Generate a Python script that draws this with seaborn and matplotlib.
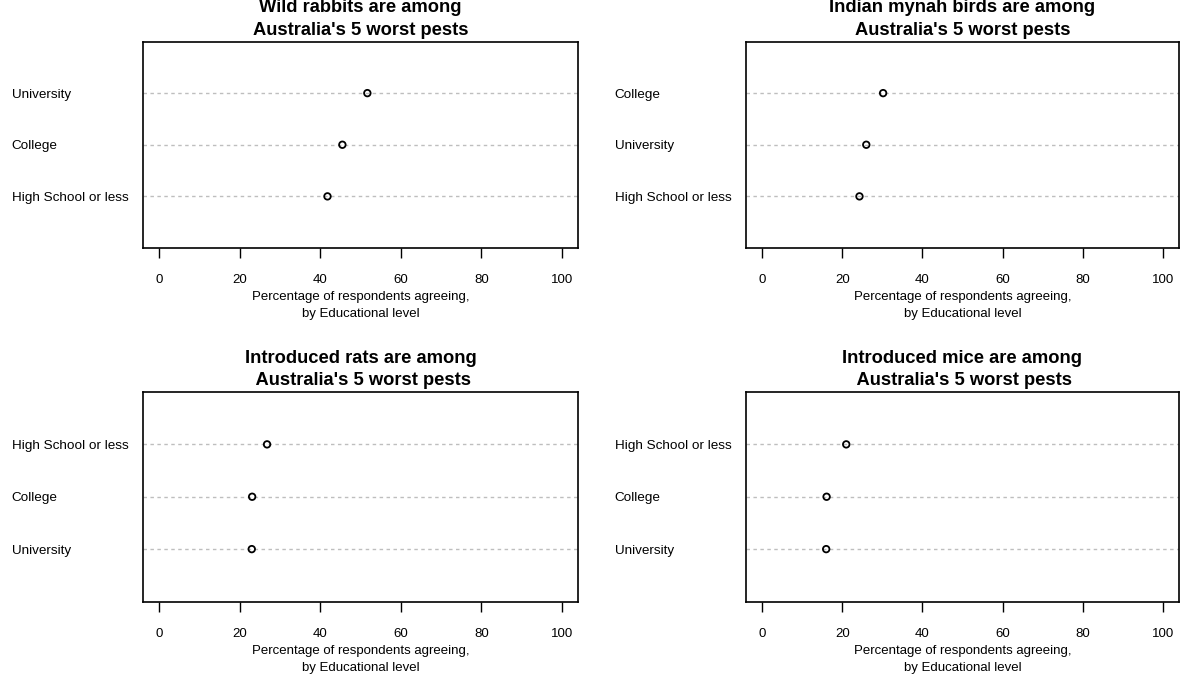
import matplotlib
matplotlib.use("Agg")
import matplotlib.pyplot as plt
import numpy as np
import pandas as pd
import seaborn as sns

# Survey results: share of respondents agreeing, by educational level
rabbits_levels = ["High School or less", "College", "University"]
rabbits_pct = [41.8, 45.5, 51.7]

mynah_levels = ["High School or less", "University", "College"]
mynah_pct = [24.3, 26.0, 30.2]

rats_levels = ["University", "College", "High School or less"]
rats_pct = [23.0, 23.1, 26.8]

mice_levels = ["University", "College", "High School or less"]
mice_pct = [16.0, 16.1, 21.0]

titles = [
    "Wild rabbits are among\nAustralia's 5 worst pests",
    "Indian mynah birds are among\nAustralia's 5 worst pests",
    "Introduced rats are among\n Australia's 5 worst pests",
    "Introduced mice are among\n Australia's 5 worst pests",
]
x_ticks = [0, 20, 40, 60, 80, 100]
x_label = "Percentage of respondents agreeing,\nby Educational level"

sns.set_theme(style="white")
plt.rcParams["font.family"] = ["Liberation Sans", "DejaVu Sans"]
plt.rcParams.update({
    "text.color": "black",
    "axes.labelcolor": "black",
    "xtick.color": "black",
    "ytick.color": "black",
})

fig = plt.figure(figsize=(11.8, 6.77), dpi=100)
W, H = 1180.0, 677.0


def box(left, top, right, bottom):
    return [left / W, 1 - bottom / H, (right - left) / W, (bottom - top) / H]


panels = [
    (box(143, 41.5, 578, 248), rabbits_levels, rabbits_pct),
    (box(746, 41.5, 1179, 248), mynah_levels, mynah_pct),
    (box(143, 392, 578, 601.5), rats_levels, rats_pct),
    (box(746, 392, 1179, 601.5), mice_levels, mice_pct),
]

for (rect, levels, pct), title in zip(panels, titles):
    ax = fig.add_axes(rect)
    pos = np.arange(1, len(levels) + 1)
    df = pd.DataFrame({"level": levels, "pct": pct, "pos": pos})

    for p in pos:
        ax.axhline(p, color="#bebebe", lw=1.0, ls=(0, (2.5, 2.5)), zorder=1)

    sns.scatterplot(data=df, x="pct", y="pos", ax=ax, marker="o", s=22,
                    facecolor="none", edgecolor="black", linewidth=1.3,
                    legend=False, zorder=3)

    ax.set_xlim(-4, 104)
    ax.set_ylim(0.0, 4.0)
    ax.set_xticks(x_ticks)
    ax.set_xticklabels([str(t) for t in x_ticks], fontsize=9.5)
    ax.set_yticks(pos)
    ax.set_yticklabels(levels, fontsize=9.7)
    for lab in ax.get_yticklabels():
        lab.set_horizontalalignment("left")
    ax.tick_params(axis="y", length=0, pad=94.5)
    ax.tick_params(axis="x", direction="out", length=7, width=1.0,
                   color="black", pad=12, bottom=True)
    ax.set_xlabel(x_label, fontsize=9.5, labelpad=3.5, linespacing=1.55)
    ax.set_ylabel("")
    ax.set_title(title, fontsize=13.2, fontweight="bold", pad=4.7,
                 linespacing=1.45)
    for sp in ax.spines.values():
        sp.set_color("black")
        sp.set_linewidth(1.2)
        sp.set_visible(True)
    ax.grid(False)

fig.savefig("out.png", dpi=100)
